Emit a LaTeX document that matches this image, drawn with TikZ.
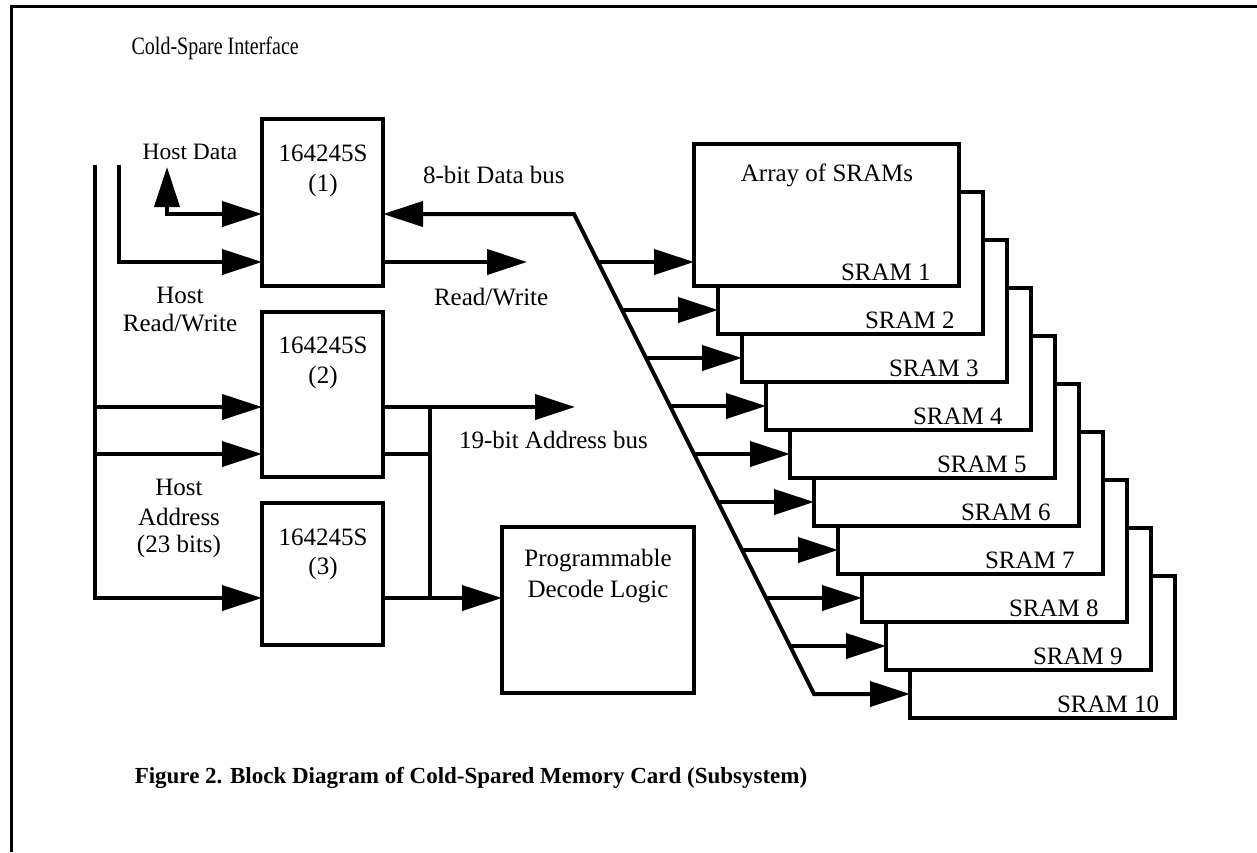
\documentclass[tikz,border=0pt]{standalone}
\usepackage{fontspec}
\setmainfont{Liberation Serif}
\usetikzlibrary{arrows.meta,calc}
\begin{document}
\begin{tikzpicture}[x=1pt,y=-1pt,line width=4pt,
  >={Triangle[length=40pt,width=25pt]},
  box/.style={draw,fill=white,anchor=north west,inner sep=0pt,outer sep=0pt},
  txt/.style={font=\fontsize{25}{29}\selectfont,inner sep=0pt},
  smalltxt/.style={font=\fontsize{23.5}{27}\selectfont,inner sep=0pt},
  captxt/.style={font=\fontsize{23}{27}\selectfont\bfseries,inner sep=0pt}]
\useasboundingbox (0,0) rectangle (1257,852);
% frame
\draw[line width=3pt] (11,852) |- (1257,6);
\node[txt,anchor=west,xscale=0.8,transform shape] (csi) at (130,48) {Cold-Spare Interface};
% interface chips
\node[box,minimum width=121pt,minimum height=167pt] (b1) at (262,119) {};
\node[box,minimum width=121pt,minimum height=165pt] (b2) at (262,312) {};
\node[box,minimum width=121pt,minimum height=142pt] (b3) at (262,503) {};
\node[box,minimum width=192pt,minimum height=166pt] (dec) at (502,527) {};
\node[txt] (t1a) at (323,153) {164245S};
\node[txt] (t1b) at (323,185) {(1)};
\node[txt] (t2a) at (323,345) {164245S};
\node[txt] (t2b) at (323,377) {(2)};
\node[txt] (t3a) at (323,537) {164245S};
\node[txt] (t3b) at (323,568) {(3)};
\node[txt] (d1) at (598,561) {Programmable};
\node[txt] (d2) at (598,592) {Decode Logic};
% host side
\node[smalltxt] (hd) at (190,152) {Host Data};
\node[txt] (hr1) at (180,295) {Host};
\node[txt] (hr2) at (180,323) {Read/Write};
\node[txt] (ha1) at (179,487) {Host};
\node[txt] (ha2) at (179,517) {Address};
\node[txt] (ha3) at (179,546) {(23 bits)};
\coordinate (railA) at (95,165);
\coordinate (railB) at (119,165);
\coordinate (hdup) at (167,167);
\draw[->] (railA) |- (b3.west |- 0,598);
\draw[->] (95,407) -- (b2.west |- 0,407);
\draw[->] (95,454) -- (b2.west |- 0,454);
\draw[->] (railB) |- (b1.west |- 0,262);
\draw[<->] (hdup) |- (b1.west |- 0,214);
% SRAM stack
\foreach \k in {10,9,...,1}{
  \pgfmathsetmacro{\sx}{694+24*(\k-1)}
  \pgfmathsetmacro{\sy}{144+48*(\k-1)}
  \node[box,minimum width=265pt,minimum height=142pt] (s\k) at (\sx,\sy) {};
  \node[txt,anchor=west] (sl\k) at ($(s\k.south west)+(145,-14)$) {SRAM \k};
}
\node[txt] (arr) at (827,175) {Array of SRAMs};
% data bus
\coordinate (db1) at (574,214);
\coordinate (db2) at (814,694);
\draw[<->] (b1.east |- 0,214) -- (db1) -- (db2) -- (s10.west |- 0,694);
\foreach \k in {1,...,9}{
  \pgfmathsetmacro{\ay}{262+48*(\k-1)}
  \pgfmathsetmacro{\ax}{598+24*(\k-1)}
  \draw[->] (\ax,\ay) -- (s\k.west |- 0,\ay);
}
\node[txt,anchor=west] (dbl) at (421,175) {8-bit Data bus};
% read/write
\coordinate (rwend) at (527,262);
\draw[->] (b1.east |- 0,262) -- (rwend);
\node[txt,anchor=west] (rwl) at (432,297) {Read/Write};
% address bus
\coordinate (abj) at (430,407);
\coordinate (abend) at (575,407);
\draw[->] (b2.east |- 0,407) -- (abend);
\draw (b2.east |- 0,454) -| (abj);
\draw (abj) -- (430,598);
\draw[->] (b3.east |- 0,598) -- (dec.west |- 0,598);
\node[txt,anchor=west] (abl) at (457,440) {19-bit Address bus};
% caption
\node[captxt] (cap) at (471,778) {Figure 2. Block Diagram of Cold-Spared Memory Card (Subsystem)};
\end{tikzpicture}
\end{document}
